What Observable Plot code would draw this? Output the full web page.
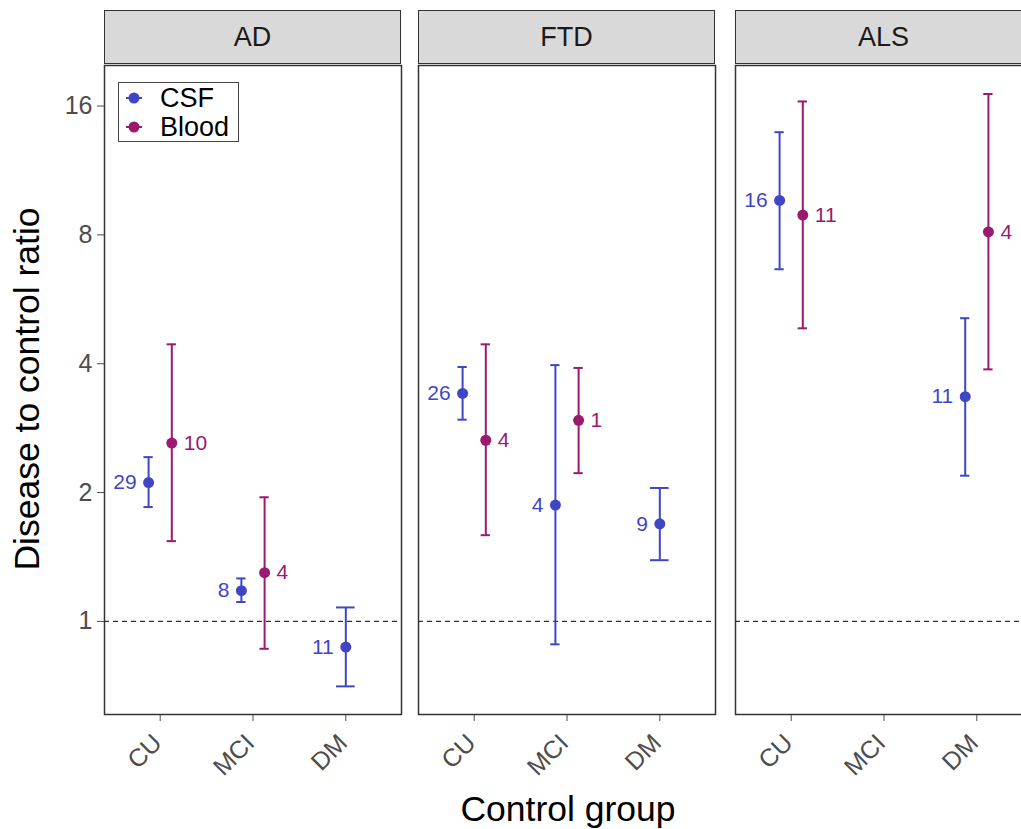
<!DOCTYPE html>
<html>
<head>
<meta charset="utf-8">
<script src="https://cdn.jsdelivr.net/npm/d3@7"></script>
<script src="https://cdn.jsdelivr.net/npm/@observablehq/plot@0.6"></script>
<style>
  html, body { margin: 0; padding: 0; background: #fff; overflow: hidden; }
  #wrap { position: relative; width: 1070px; height: 829px; font-family: "Liberation Sans", Arial, Helvetica, sans-serif; }
  .strip { position: absolute; top: 10px; height: 54px; background: #D9D9D9; border: 1.5px solid #333; box-sizing: border-box;
           display: flex; align-items: center; justify-content: center; font-size: 27px; color: #1A1A1A; }
  .ytitle { position: absolute; left: 28px; top: 389px; transform: translate(-50%, -50%) rotate(-90deg); font-size: 35.5px; color: #000; white-space: nowrap; line-height: 1; }
  .xtitle { position: absolute; left: 568px; top: 792px; transform: translateX(-50%); font-size: 35.5px; color: #000; white-space: nowrap; line-height: 1; }
  .legend { position: absolute; left: 118px; top: 82px; width: 121px; height: 60px; border: 1px solid #444; box-sizing: border-box; background: #fff; }
  .legend svg { position: absolute; left: 0; top: 0; }
  .legend .lab { position: absolute; left: 41px; font-size: 27px; color: #000; line-height: 1; }
</style>
</head>
<body>
<div id="wrap"></div>
<script>
// ---- data ----
const panels = ["AD", "FTD", "ALS"];
const groups = ["CU", "MCI", "DM"];
const fluids = ["CSF", "Blood"];
const fluidColors = ["#3F46C6", "#9B196E"];
const yTicks = [1, 2, 4, 8, 16];

const rowPanel = ["AD","AD","AD","AD","AD", "FTD","FTD","FTD","FTD","FTD", "ALS","ALS","ALS","ALS"];
const rowGroup = ["CU","CU","MCI","MCI","DM", "CU","CU","MCI","MCI","DM", "CU","CU","DM","DM"];
const rowFluid = ["CSF","Blood","CSF","Blood","CSF", "CSF","Blood","CSF","Blood","CSF", "CSF","Blood","CSF","Blood"];
const estimate = [2.11, 2.61, 1.18, 1.30, 0.871, 3.41, 2.65, 1.87, 2.95, 1.69, 9.63, 8.90, 3.35, 8.13];
const lower    = [1.85, 1.54, 1.11, 0.863, 0.705, 2.96, 1.59, 0.884, 2.22, 1.39, 6.65, 4.84, 2.19, 3.88];
const upper    = [2.42, 4.44, 1.26, 1.95, 1.078, 3.93, 4.44, 3.97, 3.91, 2.05, 13.9, 16.4, 5.11, 17.07];
const nStudies = [29, 10, 8, 4, 11, 26, 4, 4, 1, 9, 16, 11, 11, 4];

// ---- build table (dodge like ggplot position_dodge(width = 0.25)) ----
const DODGE = 0.125;
const rows = rowPanel.map((p, i) => ({
  panel: p, group: rowGroup[i], fluid: rowFluid[i],
  est: estimate[i], lo: lower[i], hi: upper[i], n: nStudies[i]
}));
rows.forEach(r => {
  const same = rows.filter(s => s.panel === r.panel && s.group === r.group);
  const off = same.length > 1 ? (r.fluid === "CSF" ? -DODGE : DODGE) : 0;
  const capHalf = same.length > 1 ? 0.05 : 0.1;
  r.xp = groups.indexOf(r.group) + 1 + off;
  r.xa = r.xp - capHalf;
  r.xb = r.xp + capHalf;
});
const groupTicks = groups.map((g, i) => ({ g, x: i + 1 }));

// ---- layout ----
const FONT = '"Liberation Sans", Arial, Helvetica, sans-serif';
const panelLeft = [104, 418, 735];
const PW = 297;
const ML = 104, MR = 40, MT = 65, MB = 115, H = 829;
const wrap = document.getElementById("wrap");

panels.forEach((p, i) => {
  const d = rows.filter(r => r.panel === p);
  const chart = Plot.plot({
    width: ML + PW + MR, height: H,
    marginLeft: ML, marginRight: MR, marginTop: MT, marginBottom: MB,
    style: `background: transparent; font-size: 25px; font-family: ${FONT}; color: #4D4D4D; overflow: visible;`,
    x: { domain: [0.4, 3.6], ticks: [1, 2, 3], tickFormat: () => "", tickSize: 7, label: null },
    y: { type: "log", base: 2, domain: [0.606, 19.9], ticks: yTicks, tickFormat: v => String(v), tickSize: 7, tickPadding: 5, label: null, axis: i === 0 ? "left" : null },
    color: { domain: fluids, range: fluidColors },
    marks: [
      Plot.ruleY([1], { stroke: "#333", strokeDasharray: "5,4", strokeWidth: 1.2 }),
      Plot.ruleX(d, { x: "xp", y1: "lo", y2: "hi", stroke: "fluid", strokeWidth: 2 }),
      Plot.ruleY(d, { y: "hi", x1: "xa", x2: "xb", stroke: "fluid", strokeWidth: 2 }),
      Plot.ruleY(d, { y: "lo", x1: "xa", x2: "xb", stroke: "fluid", strokeWidth: 2 }),
      Plot.dot(d, { x: "xp", y: "est", fill: "fluid", r: 5.5 }),
      Plot.text(d.filter(r => r.fluid === "CSF"), { x: "xp", y: "est", text: "n", fill: "fluid", textAnchor: "end", dx: -12, fontSize: 21 }),
      Plot.text(d.filter(r => r.fluid === "Blood"), { x: "xp", y: "est", text: "n", fill: "fluid", textAnchor: "start", dx: 12, fontSize: 21 }),
      Plot.text(groupTicks, { x: "x", text: "g", frameAnchor: "bottom", rotate: -45, textAnchor: "end", dx: 3, dy: 30, fontSize: 25, fill: "#4D4D4D" }),
      Plot.frame({ stroke: "#333", strokeWidth: 1.5 })
    ]
  });
  chart.style.position = "absolute";
  chart.style.left = (panelLeft[i] - ML) + "px";
  chart.style.top = "0px";
  chart.style.maxWidth = "none";
  wrap.appendChild(chart);

  const strip = document.createElement("div");
  strip.className = "strip";
  strip.style.left = panelLeft[i] + "px";
  strip.style.width = PW + "px";
  strip.textContent = p;
  wrap.appendChild(strip);
});

// axis titles
const yt = document.createElement("div");
yt.className = "ytitle"; yt.textContent = "Disease to control ratio";
wrap.appendChild(yt);
const xt = document.createElement("div");
xt.className = "xtitle"; xt.textContent = "Control group";
wrap.appendChild(xt);

// legend
const leg = document.createElement("div");
leg.className = "legend";
const keyY = [15, 44];
let svg = `<svg width="121" height="60">`;
fluids.forEach((f, k) => {
  svg += `<line x1="7" x2="23" y1="${keyY[k]}" y2="${keyY[k]}" stroke="${fluidColors[k]}" stroke-width="2"/>`;
  svg += `<circle cx="15" cy="${keyY[k]}" r="5.5" fill="${fluidColors[k]}"/>`;
});
svg += `</svg>`;
leg.innerHTML = svg;
fluids.forEach((f, k) => {
  const s = document.createElement("div");
  s.className = "lab";
  s.style.top = (keyY[k] - 13) + "px";
  s.textContent = f;
  leg.appendChild(s);
});
wrap.appendChild(leg);
</script>
</body>
</html>
